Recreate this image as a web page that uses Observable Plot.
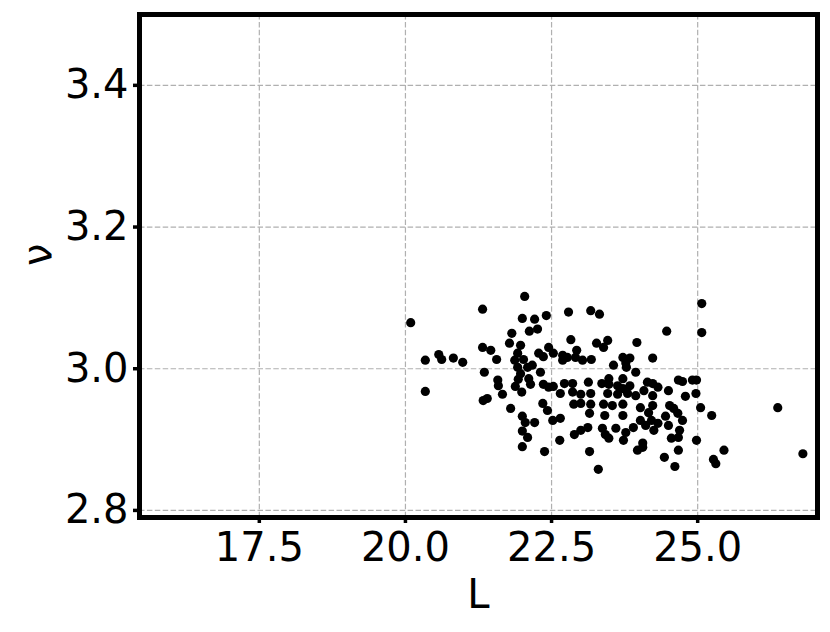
<!DOCTYPE html>
<html>
<head>
<meta charset="utf-8">
<script src="https://cdn.jsdelivr.net/npm/d3@7"></script>
<script src="https://cdn.jsdelivr.net/npm/@observablehq/plot@0.6"></script>
<style>
  html, body { margin: 0; padding: 0; background: #fff; }
  #chart { width: 830px; height: 632px; }
</style>
</head>
<body>
<div id="chart"></div>
<script>
// Data (L vs ν)
const L = [
  20.09, 20.34, 20.34, 20.57, 20.62, 20.82, 20.98, 21.32, 21.32, 21.46,
  21.56, 21.35, 21.58, 21.59, 21.66, 21.33, 21.40, 21.80, 22.04, 22.00,
  22.21, 22.41, 22.12, 22.26, 21.82, 21.78, 21.97, 21.92, 21.87, 22.02,
  22.28, 22.36, 22.45, 21.92, 22.09, 22.17, 21.97, 22.31, 22.11, 21.93,
  21.88, 22.14, 21.99, 22.36, 22.45, 22.35, 22.43, 22.00, 22.05, 22.21,
  22.00, 22.09, 22.00, 22.38, 22.52, 22.65, 22.79, 23.17, 23.32, 22.83,
  23.27, 23.46, 23.39, 23.96, 24.47, 22.53, 22.69, 22.69, 22.77, 22.93,
  22.91, 23.03, 23.18, 23.72, 23.84, 23.77, 24.23, 23.56, 23.78, 23.94,
  22.53, 22.72, 22.86, 23.13, 23.36, 23.48, 23.48, 23.63, 23.72, 23.72,
  23.84, 24.14, 24.23, 24.32, 24.67, 24.50, 22.65, 22.86, 23.00, 23.17,
  23.46, 23.63, 23.80, 23.94, 24.08, 24.23, 22.88, 23.00, 23.17, 23.39,
  23.54, 23.72, 24.02, 24.23, 24.52, 23.15, 23.41, 23.72, 24.16, 24.45,
  24.66, 22.64, 22.89, 23.00, 23.12, 23.37, 23.42, 23.48, 23.60, 23.73,
  23.77, 23.90, 24.02, 24.11, 24.21, 24.25, 24.32, 24.50, 24.55, 24.69,
  24.67, 24.74, 24.06, 23.97, 24.06, 23.15, 24.43, 24.67, 24.61, 23.30,
  24.59, 24.74, 24.91, 24.98, 24.79, 24.97, 25.05, 25.24, 26.37, 24.98,
  25.45, 25.27, 25.31, 26.80, 25.07, 25.07
];
const nu = [
  3.065, 3.012, 2.968, 3.020, 3.013, 3.015, 3.009, 3.084, 3.030, 3.026,
  3.013, 2.995, 2.984, 2.976, 2.964, 2.955, 2.958, 2.944, 3.102, 3.071,
  3.070, 3.075, 3.053, 3.056, 3.050, 3.036, 3.033, 3.022, 3.012, 3.013,
  3.022, 3.017, 3.030, 3.002, 3.002, 3.005, 2.993, 2.995, 2.986, 2.985,
  2.975, 2.978, 2.967, 2.978, 2.974, 2.951, 2.941, 2.933, 2.924, 2.924,
  2.912, 2.903, 2.890, 2.883, 2.927, 2.930, 3.080, 3.082, 3.077, 3.041,
  3.036, 3.040, 3.030, 3.037, 3.053, 3.022, 3.019, 3.012, 3.016, 3.026,
  3.016, 3.012, 3.013, 3.016, 3.015, 3.008, 3.015, 3.005, 3.002, 2.995,
  2.975, 2.979, 2.979, 2.981, 2.979, 2.986, 2.978, 2.976, 2.986, 2.972,
  2.976, 2.981, 2.979, 2.974, 2.984, 2.969, 2.965, 2.967, 2.964, 2.965,
  2.965, 2.964, 2.965, 2.962, 2.969, 2.962, 2.950, 2.951, 2.950, 2.950,
  2.948, 2.950, 2.945, 2.948, 2.948, 2.937, 2.934, 2.934, 2.938, 2.933,
  2.937, 2.899, 2.907, 2.913, 2.917, 2.916, 2.907, 2.902, 2.916, 2.899,
  2.910, 2.917, 2.927, 2.920, 2.927, 2.913, 2.923, 2.920, 2.902, 2.913,
  2.903, 2.927, 2.895, 2.885, 2.889, 2.883, 2.875, 2.885, 2.862, 2.858,
  2.944, 2.982, 2.984, 2.984, 2.961, 2.965, 2.945, 2.934, 2.945, 2.899,
  2.885, 2.872, 2.866, 2.880, 3.092, 3.051
];
const xTicks = [17.5, 20.0, 22.5, 25.0];
const yTicks = [2.8, 3.0, 3.2, 3.4];
const xLabel = "L";
const yLabel = "ν";

const points = L.map((l, i) => ({L: l, nu: nu[i]}));
const fmt = d3.format(".1f");
const font = "DejaVu Sans, sans-serif";

const chart = Plot.plot({
  width: 830,
  height: 632,
  marginLeft: 139,
  marginRight: 13,
  marginTop: 14,
  marginBottom: 115,
  style: {fontFamily: font, color: "#000", background: "#fff", overflow: "visible"},
  x: {domain: [15.45, 27.05], axis: null},
  y: {domain: [2.79, 3.5], axis: null},
  marks: [
    Plot.gridX(xTicks, {stroke: "#b0b0b0", strokeOpacity: 1, strokeWidth: 1.2, strokeDasharray: "5.5,2.4"}),
    Plot.gridY(yTicks, {stroke: "#b0b0b0", strokeOpacity: 1, strokeWidth: 1.2, strokeDasharray: "5.5,2.4"}),
    Plot.dot(points, {x: "L", y: "nu", r: 4.6, fill: "#000", stroke: null}),
    Plot.frame({stroke: "#000", strokeWidth: 5}),
    Plot.axisX(xTicks, {label: null, tickSize: 6, tickPadding: 9, strokeWidth: 3.5, fontSize: 40, tickFormat: fmt, fill: "#000"}),
    Plot.axisY(yTicks, {label: null, tickSize: 6, tickPadding: 5, strokeWidth: 3.5, fontSize: 40, tickFormat: fmt, fill: "#000"}),
    Plot.text([xLabel], {frameAnchor: "bottom", dy: 90, fontSize: 40, fill: "#000"}),
    Plot.text([yLabel], {frameAnchor: "left", dx: -101, rotate: -90, fontSize: 40, fill: "#000"})
  ]
});
document.getElementById("chart").appendChild(chart);
</script>
</body>
</html>
